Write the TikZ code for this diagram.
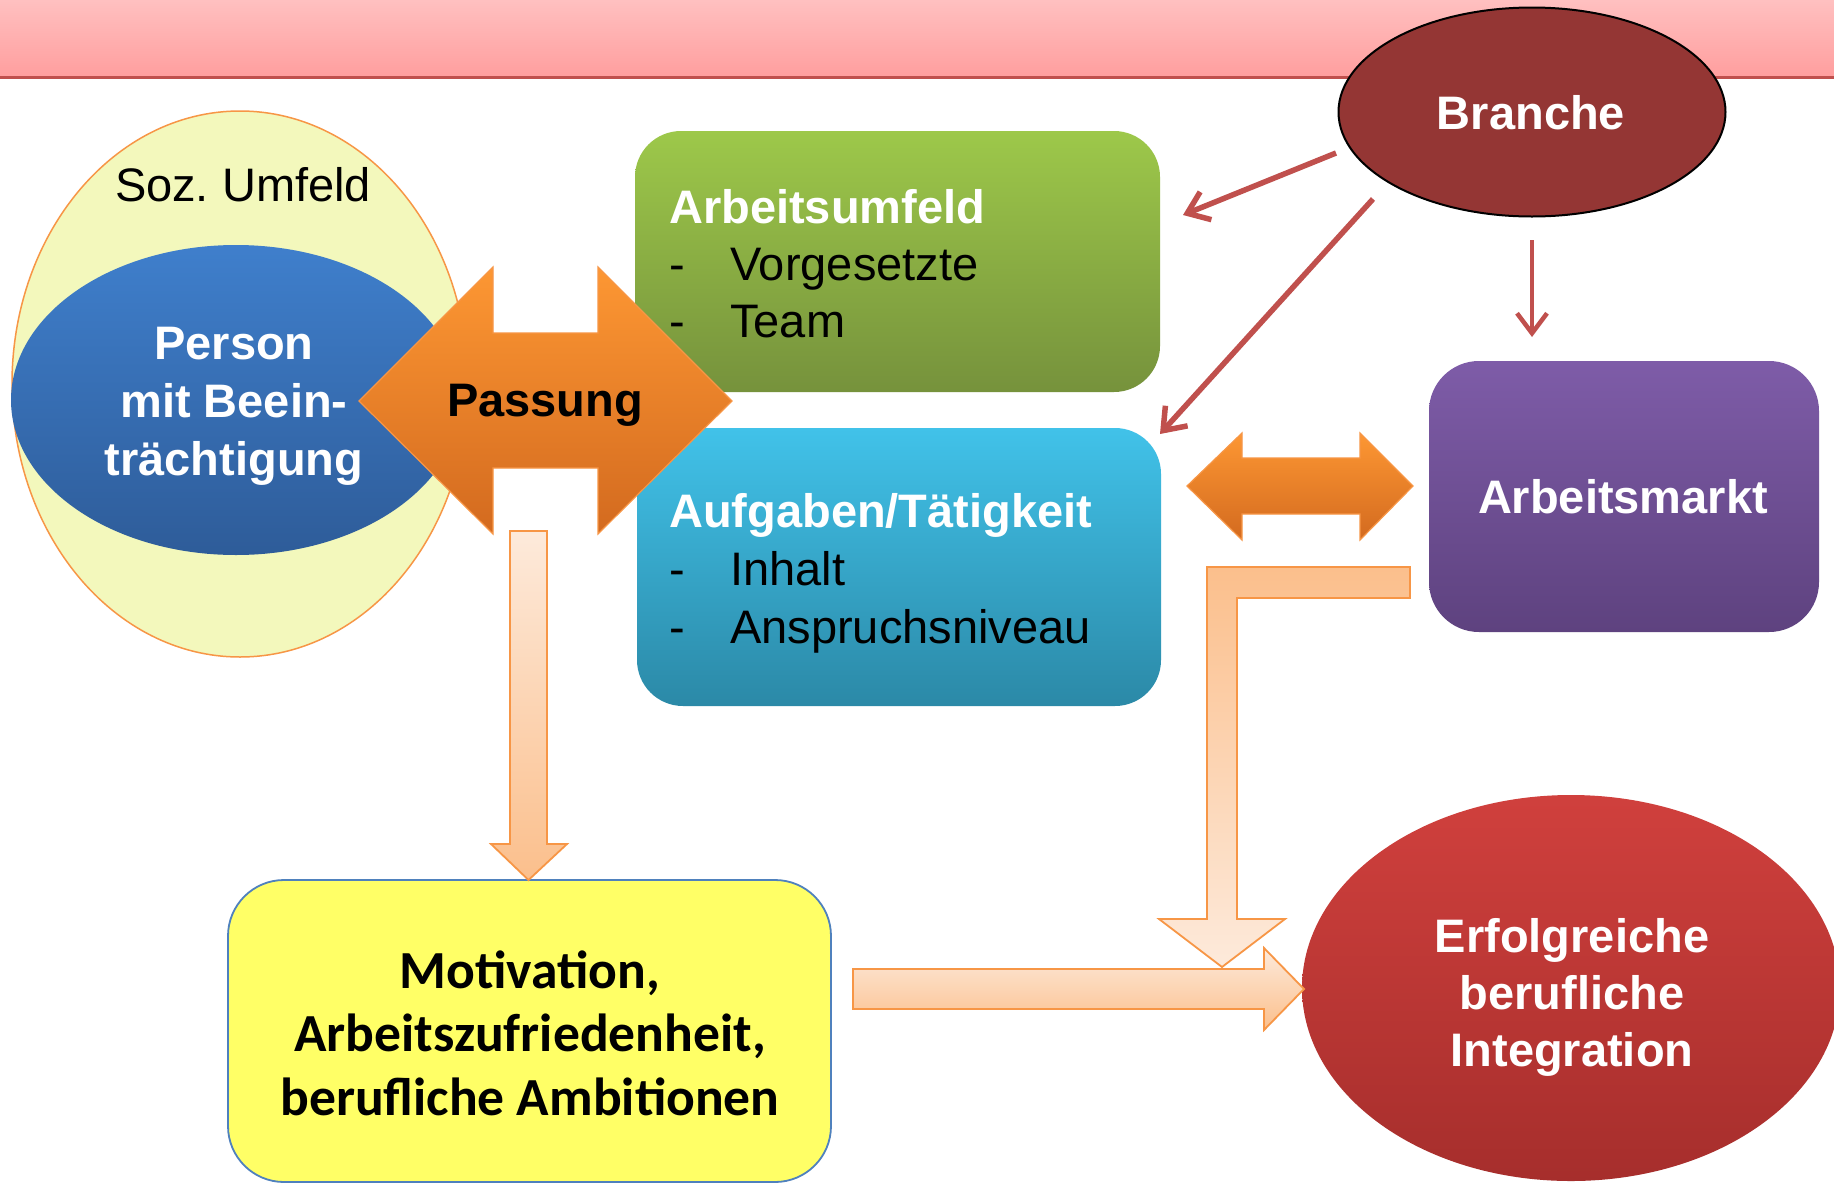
\documentclass[tikz,border=0pt]{standalone}
\usepackage{fontspec}
\setmainfont{Liberation Sans}
\newfontfamily\calibfont{Carlito}
\usetikzlibrary{shapes.geometric,arrows.meta}
\frenchspacing

\definecolor{headtop}{HTML}{FFC0C0}
\definecolor{headbot}{HTML}{FF9E9E}
\definecolor{headline}{HTML}{C0504D}
\definecolor{sozfill}{HTML}{F3F8BC}
\definecolor{orline}{HTML}{F79646}
\definecolor{persontop}{HTML}{3F7FCC}
\definecolor{personbot}{HTML}{2E5C99}
\definecolor{ortop}{HTML}{FD9733}
\definecolor{orbot}{HTML}{D36A1F}
\definecolor{greentop}{HTML}{9DC84A}
\definecolor{greenbot}{HTML}{76923C}
\definecolor{cyantop}{HTML}{41C2E9}
\definecolor{cyanbot}{HTML}{2B89A7}
\definecolor{branchefill}{HTML}{943634}
\definecolor{purptop}{HTML}{7E5CA8}
\definecolor{purpbot}{HTML}{5E427F}
\definecolor{redtop}{HTML}{D0403D}
\definecolor{redbot}{HTML}{A62E2C}
\definecolor{yelfill}{HTML}{FFFF66}
\definecolor{yelline}{HTML}{4F81BD}
\definecolor{peachlight}{HTML}{FDEADB}
\definecolor{peachdark}{HTML}{FBBF8C}
\definecolor{conred}{HTML}{C0504D}

\tikzset{
  bigfont/.style={font=\fontsize{47}{57}\selectfont},
  boldfont/.style={font=\fontsize{47}{57}\selectfont\bfseries},
  roundbox/.style={rectangle, rounded corners=46pt, inner sep=0pt},
  peacharrow/.style={draw=orline, line width=1.8pt},
  orarrow/.style={draw=orline, line width=1.2pt, top color=ortop, bottom color=orbot},
  redcon/.style={draw=conred, line width=5.5pt, -{Straight Barb[length=20pt,width=30pt]}},
  txt/.style={inner sep=0pt}
}

\begin{document}
\begin{tikzpicture}[x=1pt,y=-1pt]
\useasboundingbox (0,0) rectangle (1834,1184);
\fill[white] (0,0) rectangle (1834,1184);

% header band
\shade[top color=headtop, bottom color=headbot] (0,0) rectangle (1834,77);
\draw[headline, line width=3pt] (0,77.5) -- (1834,77.5);

% Soz. Umfeld
\node[ellipse, draw=orline, line width=1.5pt, fill=sozfill, minimum width=456pt, minimum height=546pt, inner sep=0pt] (soz) at (240,384) {};
\node[txt, bigfont] (soztext) at (243,185) {Soz. Umfeld};

% Person
\node[ellipse, top color=persontop, bottom color=personbot, minimum width=450pt, minimum height=310pt, inner sep=0pt] (person) at (236,400) {};
\node[txt, text=white, align=center, font=\fontsize{47}{58}\selectfont\bfseries] (persontext) at (234,406) {Person\\mit Beein-\\trächtigung};

% Arbeitsumfeld box
\node[roundbox, top color=greentop, bottom color=greenbot, minimum width=525pt, minimum height=261pt] (umfeld) at (897.5,261.5) {};
\node[txt, bigfont, anchor=west, align=left] (umfeldtext) at (669,264)
  {\textcolor{white}{\bfseries Arbeitsumfeld}\\\makebox[61pt][l]{-}Vorgesetzte\\\makebox[61pt][l]{-}Team};

% Aufgaben box
\node[roundbox, top color=cyantop, bottom color=cyanbot, minimum width=524pt, minimum height=278pt] (aufgaben) at (899,567) {};
\node[txt, anchor=west, align=left, font=\fontsize{47}{58}\selectfont] (aufgabentext) at (669,573)
  {\textcolor{white}{\bfseries Aufgaben/Tätigkeit}\\\makebox[61pt][l]{-}Inhalt\\\makebox[61pt][l]{-}Anspruchsniveau};

% Passung double arrow
\path[orarrow] (359,401) -- (493,267) -- (493,333) -- (598,333) -- (598,267) -- (732,401)
  -- (598,534) -- (598,468) -- (493,468) -- (493,534) -- cycle;
\node[txt, boldfont] (passung) at (545,405) {Passung};

% Branche
\node[ellipse, draw=black, line width=2pt, fill=branchefill, minimum width=387pt, minimum height=209pt, inner sep=0pt] (branche) at (1532,112) {};
\node[txt, boldfont, text=white] (branchetext) at (1531,113) {Branche};

% Arbeitsmarkt
\node[roundbox, rounded corners=50pt, top color=purptop, bottom color=purpbot, minimum width=390pt, minimum height=271pt] (markt) at (1624,496.5) {};
\node[txt, boldfont, text=white] (markttext) at (1623,497) {Arbeitsmarkt};

% small double arrow
\path[orarrow] (1187,486) -- (1242,433) -- (1242,458) -- (1360,458) -- (1360,433) -- (1413,486)
  -- (1360,540) -- (1360,514) -- (1242,514) -- (1242,540) -- cycle;

% Motivation box
\node[roundbox, rounded corners=56pt, draw=yelline, line width=1.8pt, fill=yelfill, minimum width=603pt, minimum height=302pt] (motiv) at (529.5,1031) {};
\node[txt, align=center, font=\fontsize{53.6}{63.5}\selectfont\calibfont\bfseries] (motivtext) at (530,1033)
  {Motivation,\\Arbeitszufriedenheit,\\berufliche Ambitionen};

% Erfolgreiche ellipse
\node[ellipse, top color=redtop, bottom color=redbot, minimum width=538pt, minimum height=386pt, inner sep=0pt] (erfolg) at (1571,988) {};
\node[txt, boldfont, text=white, align=center] (erfolgtext) at (1572,997)
  {Erfolgreiche\\berufliche\\Integration};

% peach block arrows
\path[peacharrow, top color=peachlight, bottom color=peachdark]
  (510,531) -- (547,531) -- (547,844) -- (567,844) -- (528.5,880) -- (491,844) -- (510,844) -- cycle;
\path[peacharrow, top color=peachdark, bottom color=peachlight]
  (1410,567) -- (1410,598) -- (1237,598) -- (1237,919) -- (1285,919) -- (1222,967)
  -- (1159,919) -- (1207,919) -- (1207,567) -- cycle;
\path[peacharrow, top color=peachlight, bottom color=peachdark]
  (853,969) -- (1264,969) -- (1264,948) -- (1304,989) -- (1264,1030) -- (1264,1009) -- (853,1009) -- cycle;

% red connectors from Branche
\coordinate (c1s) at (1336,153);
\coordinate (c1e) at (1183,215);
\coordinate (c2s) at (1373,199);
\coordinate (c2e) at (1160,434);
\coordinate (c3s) at (1532,240);
\coordinate (c3e) at (1532,337);
\draw[redcon] (c1s) -- (c1e);
\draw[redcon] (c2s) -- (c2e);
\draw[redcon, line width=4.5pt] (c3s) -- (c3e);
\end{tikzpicture}
\end{document}
